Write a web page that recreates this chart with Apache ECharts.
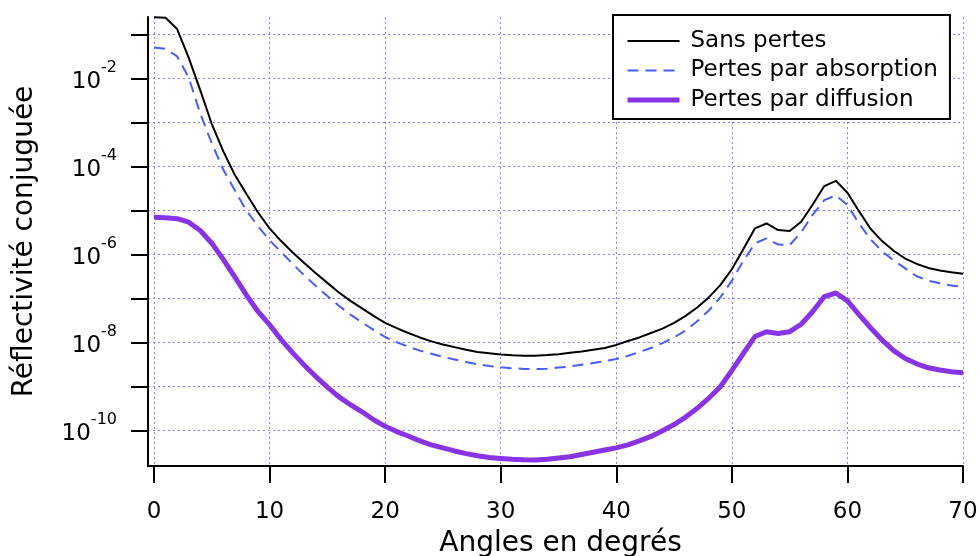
<!DOCTYPE html>
<html>
<head>
<meta charset="utf-8">
<script src="https://cdn.jsdelivr.net/npm/echarts@6/dist/echarts.min.js"></script>
<style>
html,body{margin:0;padding:0;background:#fff;}
#chart{width:980px;height:556px;}
</style>
</head>
<body>
<div id="chart"></div>
<script>
// Angles (degrees)
const angles = [0,1,2,3,4,5,6,7,8,9,10,11,12,13,14,15,16,17,18,19,20,21,22,23,24,25,26,27,28,29,30,31,32,33,34,35,36,37,38,39,40,41,42,43,44,45,46,47,48,49,50,51,52,53,54,55,56,57,58,59,60,61,62,63,64,65,66,67,68,69,70];

// log10 of the conjugate reflectivity
const sansPertesExp = [-0.615,-0.625,-0.88,-1.53,-2.27,-3.04,-3.66,-4.20,-4.63,-5.05,
 -5.41,-5.70,-5.96,-6.20,-6.43,-6.65,-6.87,-7.06,-7.23,-7.40,
 -7.56,-7.68,-7.79,-7.89,-7.98,-8.05,-8.11,-8.17,-8.22,-8.25,
 -8.28,-8.295,-8.305,-8.305,-8.29,-8.27,-8.24,-8.21,-8.17,-8.13,
 -8.06,-7.97,-7.89,-7.79,-7.69,-7.56,-7.40,-7.21,-6.98,-6.70,
 -6.34,-5.88,-5.41,-5.30,-5.45,-5.47,-5.26,-4.87,-4.45,-4.33,
 -4.60,-5.02,-5.42,-5.70,-5.92,-6.10,-6.22,-6.31,-6.37,-6.41,-6.44];

const absorptionExp = [-1.30,-1.33,-1.50,-1.98,-2.80,-3.48,-4.08,-4.55,-5.01,-5.36,
 -5.68,-5.95,-6.22,-6.48,-6.72,-6.95,-7.17,-7.37,-7.55,-7.72,
 -7.88,-8.00,-8.10,-8.19,-8.26,-8.33,-8.39,-8.45,-8.50,-8.54,
 -8.57,-8.59,-8.605,-8.61,-8.60,-8.575,-8.55,-8.51,-8.47,-8.43,
 -8.38,-8.31,-8.22,-8.13,-8.02,-7.89,-7.73,-7.52,-7.28,-6.98,
 -6.60,-6.15,-5.75,-5.64,-5.78,-5.79,-5.50,-5.10,-4.77,-4.66,
 -4.88,-5.30,-5.66,-5.93,-6.14,-6.32,-6.50,-6.60,-6.66,-6.71,-6.74];

const diffusionExp = [-5.16,-5.17,-5.19,-5.27,-5.46,-5.75,-6.12,-6.52,-6.93,-7.30,
 -7.60,-7.94,-8.24,-8.52,-8.78,-9.02,-9.24,-9.42,-9.58,-9.76,
 -9.91,-10.03,-10.13,-10.24,-10.33,-10.40,-10.47,-10.53,-10.58,-10.62,
 -10.64,-10.66,-10.67,-10.675,-10.66,-10.63,-10.60,-10.55,-10.50,-10.45,
 -10.40,-10.33,-10.24,-10.14,-10.01,-9.87,-9.70,-9.50,-9.27,-9.01,
 -8.64,-8.25,-7.87,-7.76,-7.80,-7.76,-7.59,-7.30,-6.96,-6.88,
 -7.06,-7.37,-7.67,-7.95,-8.19,-8.37,-8.49,-8.58,-8.63,-8.67,-8.69];

const seriesNames = ['Sans pertes','Pertes par absorption','Pertes par diffusion'];
const xTicks = [0,10,20,30,40,50,60,70];
const yTickExps = [-10,-9,-8,-7,-6,-5,-4,-3,-2,-1];
const yLabelExps = [-10,-8,-6,-4,-2];

const FONT = 'DejaVu Sans';
const COLORS = ['#000000', '#4a5bff', '#8833e6'];
const DASH = [11, 7];
const toPairs = exps => angles.map((a, i) => [a, Math.pow(10, exps[i])]);

const chart = echarts.init(document.getElementById('chart'), null, {renderer: 'canvas'});
chart.setOption({
  animation: false,
  backgroundColor: '#ffffff',
  grid: {left: 148, right: 17, top: 17, bottom: 90, containLabel: false, outerBoundsMode: 'none'},
  legend: {
    orient: 'vertical', left: 613, top: 15,
    data: [
      {name: seriesNames[0], lineStyle: {color: COLORS[0], width: 2, type: 'solid'}},
      {name: seriesNames[1], lineStyle: {color: COLORS[1], width: 2, type: DASH}},
      {name: seriesNames[2], lineStyle: {color: COLORS[2], width: 5, type: 'solid'}}
    ],
    itemStyle: {opacity: 0, color: 'rgba(0,0,0,0)', borderWidth: 0},
    itemWidth: 52, itemHeight: 14, itemGap: 3.5,
    padding: [13, 12, 6, 12],
    borderColor: '#000', borderWidth: 2, backgroundColor: '#fff',
    textStyle: {fontFamily: FONT, fontSize: 23, color: '#000', lineHeight: 26, padding: [0,0,0,6]}
  },
  xAxis: {
    type: 'value', min: -0.52, max: 70,
    name: 'Angles en degrés', nameLocation: 'middle', nameGap: 64,
    nameTextStyle: {fontFamily: FONT, fontSize: 28, color: '#000', padding: [0, 0, 0, 10]},
    axisLine: {show: true, onZero: false, lineStyle: {color: '#000', width: 2}},
    axisTick: {show: true, length: 17, lineStyle: {color: '#000', width: 2}, customValues: xTicks},
    axisLabel: {fontFamily: FONT, fontSize: 23, color: '#000', margin: 35, customValues: xTicks},
    splitLine: {show: true, lineStyle: {color: '#7f7fff', width: 1, type: [2, 3]}}
  },
  yAxis: {
    type: 'log', logBase: 10,
    min: Math.pow(10, -10.812), max: Math.pow(10, -0.607),
    name: 'Réflectivité conjuguée', nameLocation: 'middle', nameGap: 109, nameRotate: 90,
    nameTextStyle: {fontFamily: FONT, fontSize: 28, color: '#000'},
    axisLine: {show: true, onZero: false, lineStyle: {color: '#000', width: 2}},
    axisTick: {show: true, length: 17, lineStyle: {color: '#000', width: 2},
      customValues: yTickExps.map(e => Math.pow(10, e))},
    axisLabel: {
      margin: 31, customValues: yLabelExps.map(e => Math.pow(10, e)),
      formatter: v => '{b|10}{s|' + Math.round(Math.log10(v)) + '}',
      rich: {
        b: {fontFamily: FONT, fontSize: 23, color: '#000', padding: [8, 0, 0, 0]},
        s: {fontFamily: FONT, fontSize: 16, color: '#000', padding: [0, 0, 20, 0]}
      }
    },
    splitLine: {show: true, lineStyle: {color: '#7f7fff', width: 1, type: [2, 3]}}
  },
  series: [
    {name: seriesNames[0], type: 'line', data: toPairs(sansPertesExp), showSymbol: false, symbol: 'none',
     lineStyle: {color: COLORS[0], width: 2}, itemStyle: {color: COLORS[0]}, z: 4},
    {name: seriesNames[1], type: 'line', data: toPairs(absorptionExp), showSymbol: false, symbol: 'none',
     lineStyle: {color: COLORS[1], width: 2, type: DASH}, itemStyle: {color: COLORS[1]}, z: 3},
    {name: seriesNames[2], type: 'line', data: toPairs(diffusionExp), showSymbol: false, symbol: 'none',
     lineStyle: {color: COLORS[2], width: 5}, itemStyle: {color: COLORS[2]}, z: 2}
  ]
});
</script>
</body>
</html>
